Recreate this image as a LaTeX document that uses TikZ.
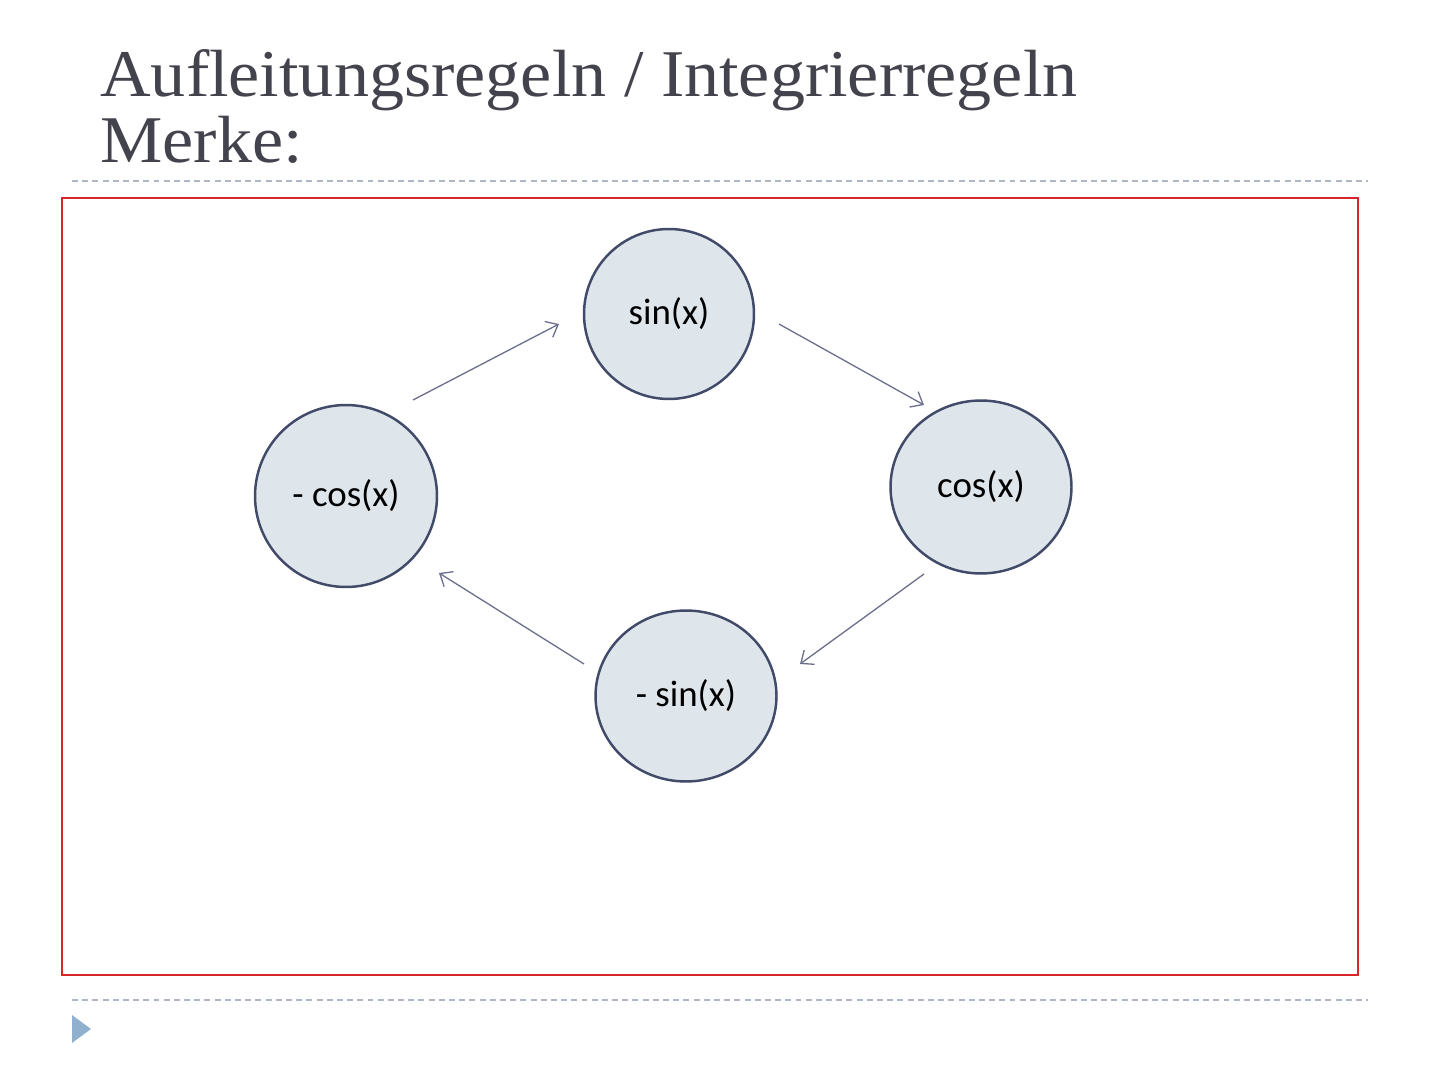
\documentclass[tikz,border=0pt]{standalone}
\usepackage{fontspec}
\setmainfont{Liberation Serif}
\newfontfamily\titlefont[FakeStretch=1.05]{Liberation Serif}
\newfontfamily\gillfont{Carlito}
\usetikzlibrary{arrows.meta, shapes.geometric, positioning}
\definecolor{titlegray}{HTML}{43434D}
\definecolor{rulegray}{HTML}{AEB8C4}
\definecolor{framered}{HTML}{D8262D}
\definecolor{ringblue}{HTML}{414A69}
\definecolor{ringfill}{HTML}{DEE6EB}
\definecolor{arrowgray}{HTML}{6C708D}
\definecolor{bulletblue}{HTML}{8FB1CF}
\tikzset{
  fnode/.style={ellipse, draw=ringblue, fill=ringfill, line width=1.4pt,
    inner sep=0pt, font=\gillfont\fontsize{21}{24}\selectfont},
  farrow/.style={draw=arrowgray, line width=0.75pt,
    -{Straight Barb[length=6pt, width=10pt]}},
  dashrule/.style={draw=rulegray, line width=0.8pt, dash pattern=on 3.4pt off 2.4pt},
  titletext/.style={anchor=base west, inner sep=0pt, text=titlegray,
    font=\titlefont\fontsize{38}{44}\selectfont}
}

\begin{document}
\begin{tikzpicture}[x=0.02cm, y=0.02cm]
  \useasboundingbox (0,0) rectangle (1440,1080);
  % header
  \node[titletext] (title) at (100,983) {Aufleitungsregeln / Integrierregeln};
  \node[titletext] (merke) at (100,917) {Merke:};
  \draw[dashrule] (72,899) -- (1368,899);
  \draw[dashrule] (72,80) -- (1368,80);
  \fill[bulletblue] (72,65) -- (91,51) -- (72,37) -- cycle;
  % frame
  \draw[framered, line width=1.2pt] (62,882) rectangle (1358,105);
  % cycle
  \node[fnode, minimum width=3.4cm, minimum height=3.4cm] (sin) at (669,766) {sin(x)};
  \node[fnode, minimum width=3.62cm, minimum height=3.46cm] (cos) at (981,593) {cos(x)};
  \node[fnode, minimum width=3.62cm, minimum height=3.42cm] (msin) at (686,384) {- sin(x)};
  \node[fnode, minimum width=3.64cm, minimum height=3.64cm] (mcos) at (346,584) {- cos(x)};
  %
  \coordinate (a1s) at (413,680); \coordinate (a1e) at (559,756);
  \coordinate (a2s) at (779,756); \coordinate (a2e) at (924,675);
  \coordinate (a3s) at (924,506); \coordinate (a3e) at (800,416);
  \coordinate (a4s) at (584,416); \coordinate (a4e) at (439,507);
  \draw[farrow] (a1s) -- (a1e);
  \draw[farrow] (a2s) -- (a2e);
  \draw[farrow] (a3s) -- (a3e);
  \draw[farrow] (a4s) -- (a4e);
\end{tikzpicture}
\end{document}
